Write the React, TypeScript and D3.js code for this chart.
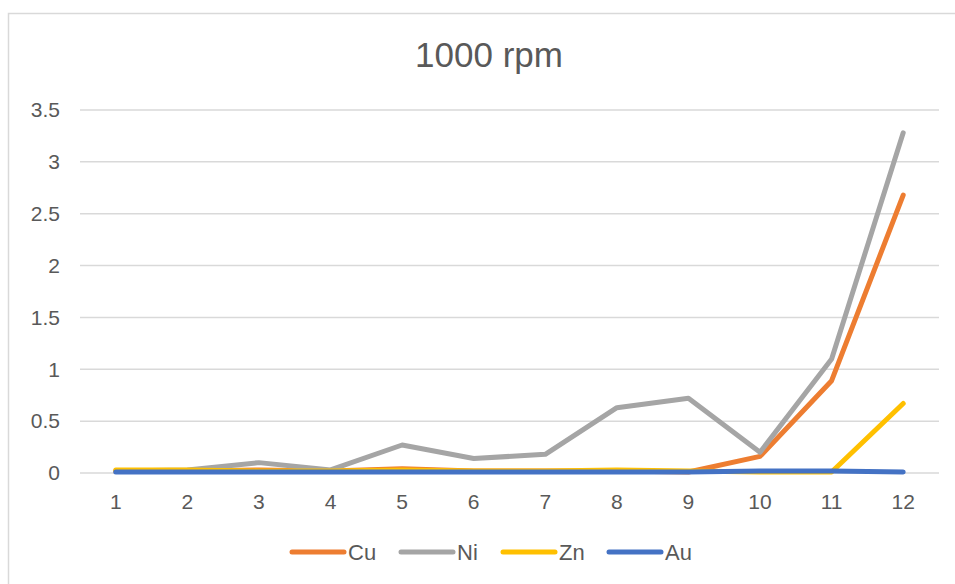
import React from "react";
import * as d3 from "d3";

// Sample index along the x axis
const categories: number[] = [1, 2, 3, 4, 5, 6, 7, 8, 9, 10, 11, 12];

// Measured concentrations per sample
const cuValues: number[] = [0.02, 0.02, 0.03, 0.02, 0.04, 0.02, 0.02, 0.02, 0.01, 0.16, 0.89, 2.68];
const niValues: number[] = [0.02, 0.03, 0.1, 0.03, 0.27, 0.14, 0.18, 0.63, 0.72, 0.2, 1.1, 3.28];
const znValues: number[] = [0.03, 0.03, 0.02, 0.02, 0.03, 0.02, 0.02, 0.03, 0.02, 0.01, 0.01, 0.67];
const auValues: number[] = [0.01, 0.01, 0.01, 0.01, 0.01, 0.01, 0.01, 0.01, 0.01, 0.02, 0.02, 0.01];

const seriesNames: string[] = ["Cu", "Ni", "Zn", "Au"];
const seriesColors: string[] = ["#ED7D31", "#A5A5A5", "#FFC000", "#4472C4"];
const yTicks: number[] = [0, 0.5, 1, 1.5, 2, 2.5, 3, 3.5];
const title = "1000 rpm";

const W = 955;
const H = 584;
const FONT = "'Liberation Sans', Arial, sans-serif";
const TEXT = "#595959";

export default function App() {
  const series = [cuValues, niValues, znValues, auValues];

  const x = d3.scalePoint<number>().domain(categories).range([80, 939]).padding(0.5);
  const y = d3.scaleLinear().domain([0, 3.5]).range([473, 110]);

  const line = d3
    .line<number>()
    .x((_, i) => x(categories[i]) as number)
    .y((d) => y(d));

  const legendX = [290, 399, 501, 607];

  return (
    <svg
      width={W}
      height={H}
      style={{ position: "absolute", left: 0, top: 0, background: "#fff" }}
    >
      <rect x={0} y={0} width={W} height={H} fill="#fff" />
      <rect x={8.5} y={13.5} width={W + 20} height={H + 20} fill="#fff" stroke="#d9d9d9" strokeWidth={1.5} />

      <text
        x={489}
        y={67}
        textAnchor="middle"
        fontFamily={FONT}
        fontSize={35}
        fill={TEXT}
      >
        {title}
      </text>

      {yTicks.map((t) => (
        <g key={t}>
          <line x1={80} x2={939} y1={y(t)} y2={y(t)} stroke="#d9d9d9" strokeWidth={1.5} />
          <text
            x={60}
            y={y(t)}
            dy="0.35em"
            textAnchor="end"
            fontFamily={FONT}
            fontSize={21}
            fill={TEXT}
          >
            {String(t)}
          </text>
        </g>
      ))}

      {categories.map((c) => (
        <text
          key={c}
          x={x(c)}
          y={509}
          textAnchor="middle"
          fontFamily={FONT}
          fontSize={21}
          fill={TEXT}
        >
          {c}
        </text>
      ))}

      {series.map((vals, i) => (
        <path
          key={seriesNames[i]}
          d={line(vals) ?? ""}
          fill="none"
          stroke={seriesColors[i]}
          strokeWidth={5}
          strokeLinecap="round"
          strokeLinejoin="round"
        />
      ))}

      {seriesNames.map((name, i) => (
        <g key={name}>
          <line
            x1={legendX[i] + 2}
            x2={legendX[i] + 54}
            y1={552}
            y2={552}
            stroke={seriesColors[i]}
            strokeWidth={5}
            strokeLinecap="round"
          />
          <text
            x={legendX[i] + 58}
            y={552}
            dy="0.35em"
            fontFamily={FONT}
            fontSize={22}
            fill={TEXT}
          >
            {name}
          </text>
        </g>
      ))}
    </svg>
  );
}
